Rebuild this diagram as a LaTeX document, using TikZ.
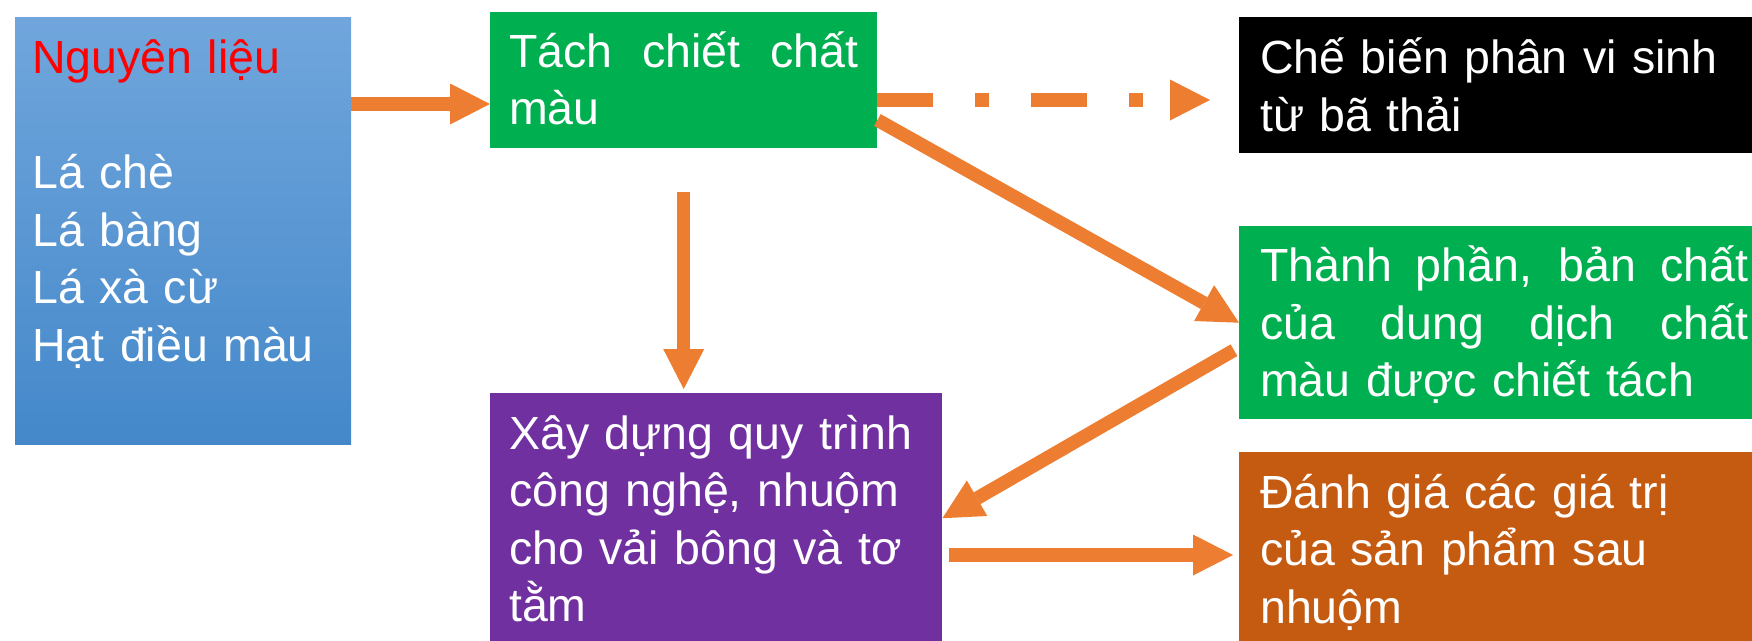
\documentclass[tikz,border=0pt]{standalone}
\usepackage{fontspec}
\setmainfont{Liberation Sans}
\usetikzlibrary{positioning,calc,arrows.meta}
\definecolor{boxgreen}{RGB}{0,176,80}
\definecolor{boxpurple}{RGB}{112,48,160}
\definecolor{boxorange}{RGB}{197,90,17}
\definecolor{arrorange}{RGB}{237,125,49}
\definecolor{bluetop}{RGB}{112,166,220}
\definecolor{bluebot}{RGB}{68,136,202}
\newcommand{\fullline}[2]{\makebox[#1][s]{\spaceskip=0pt\relax #2}}

\begin{document}
\begin{tikzpicture}[x=1pt,y=-1pt,
      box/.style={inner sep=0pt,anchor=north west},
      txt/.style={inner sep=0pt,anchor=base west,text=white,align=left,
         font=\fontsize{46.5pt}{57.5pt}\selectfont},
      arr/.style={draw=arrorange,line width=13.5pt,
         -{Triangle[width=41pt,length=40pt,line width=0pt]}}]
            \useasboundingbox (0,0) rectangle (1752,640);
            \node[box,top color=bluetop,bottom color=bluebot,minimum width=336pt,minimum height=427pt] (nl) at (15,17) {};
            \node[box,fill=boxgreen,minimum width=387pt,minimum height=136pt] (tach) at (490,12) {};
            \node[box,fill=black,minimum width=520pt,minimum height=136pt] (cb) at (1239,17) {};
            \node[box,fill=boxgreen,minimum width=520pt,minimum height=193pt] (tp) at (1239,226) {};
            \node[box,fill=boxorange,minimum width=520pt,minimum height=195pt] (dg) at (1239,452) {};
            \node[box,fill=boxpurple,minimum width=452pt,minimum height=250pt] (xd) at (490,393) {};

            \node[txt,text width=300pt] (nl-t) at (32,73.5) {\textcolor{red}{Nguyên liệu}\\[57.5pt]
               Lá chè\\Lá bàng\\Lá xà cừ\\Hạt điều màu};
            \node[txt,text width=349pt] (tach-t) at (509,67) {\fullline{349pt}{Tách chiết chất}\\màu};
            \node[txt,text width=470pt] (cb-t) at (1260,73.5) {Chế biến phân vi sinh\\từ bã thải};
            \node[txt,text width=488pt] (tp-t) at (1260,281.5) {\fullline{488pt}{Thành phần, bản chất}\\
               \fullline{488pt}{của dung dịch chất}\\màu được chiết tách};
            \node[txt,text width=470pt] (dg-t) at (1260,508) {Đánh giá các giá trị\\của sản phẩm sau\\nhuộm};
            \node[txt,text width=420pt] (xd-t) at (509,449) {Xây dựng quy trình\\công nghệ, nhuộm\\cho vải bông và tơ\\tằm};

            \coordinate (a1) at ($(nl.north east)+(0,87)$);
            \draw[arr] (a1) -- (a1 -| tach.west);
            \coordinate (a2) at ($(tach.north east)+(0,88)$);
            \draw[arr,dash pattern=on 56pt off 42pt on 14pt off 42pt,shorten >=29pt] (a2) -- (a2 -| cb.west);
            \draw[arr] ($(tach.north east)+(0,108)$) -- (tp.west);
            \draw[arr] ($(tp.west)+(-5,27.5)$) -- (xd.east);
            \draw[arr,shorten <=44pt,shorten >=4pt] (tach.south) -- (tach.south |- xd.north);
            \coordinate (a5) at ($(xd.north east)+(7,162)$);
            \draw[arr] (a5) -- ($(a5 -| dg.west)+(-6,0)$);
\end{tikzpicture}
\end{document}
